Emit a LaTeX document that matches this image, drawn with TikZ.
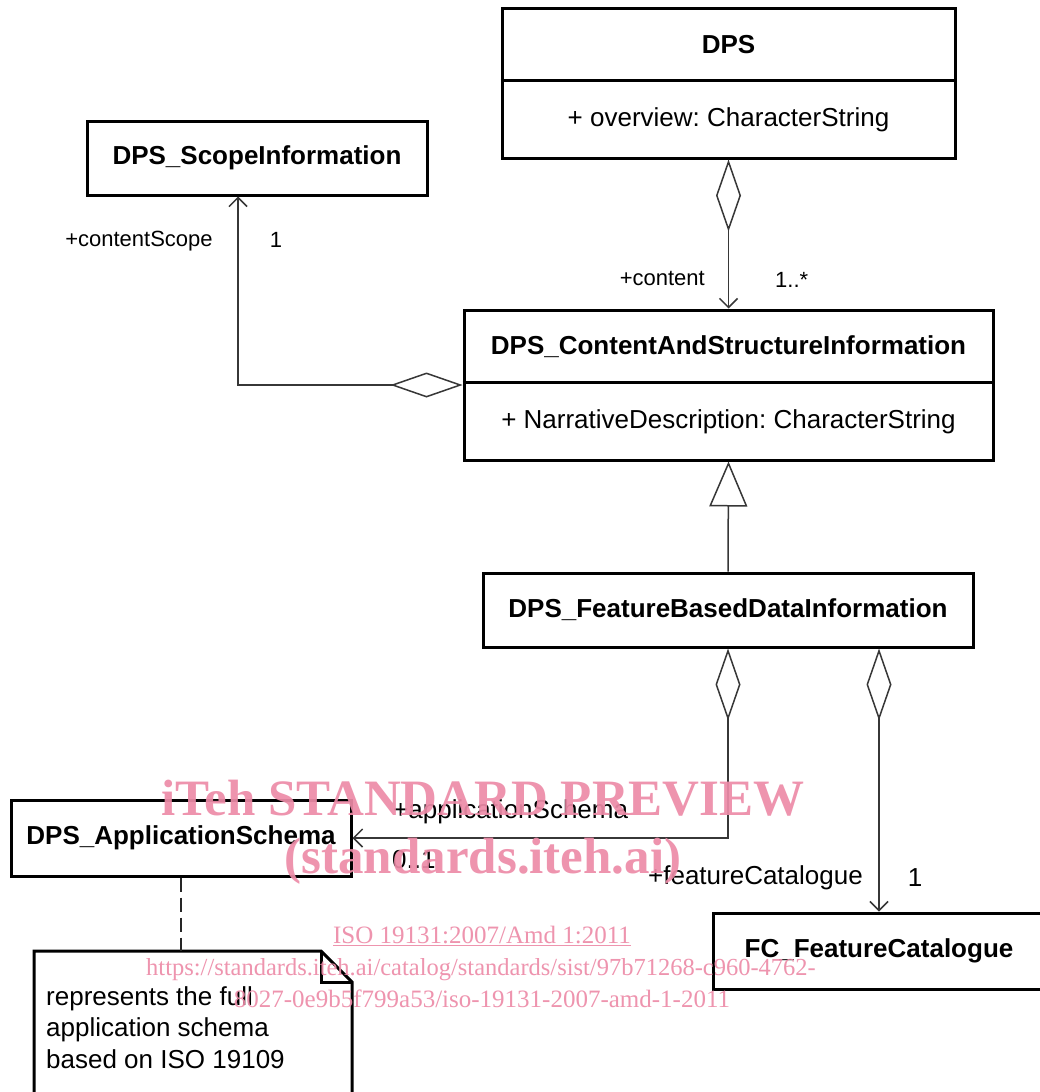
\documentclass[tikz,border=0pt]{standalone}
\usepackage{fontspec}
\setmainfont{Liberation Sans}
\newfontfamily\wmfont{Liberation Serif}
\usetikzlibrary{arrows.meta}
\definecolor{wm}{RGB}{237,139,168}
\definecolor{cl}{RGB}{55,55,55}
\frenchspacing
\begin{document}
\begin{tikzpicture}[x=1pt,y=-1pt,
  cls/.style={draw, line width=3pt, inner sep=0pt},
  ttl/.style={font=\fontsize{26}{31}\selectfont\bfseries, inner sep=0pt},
  attr/.style={font=\fontsize{26}{31}\selectfont, inner sep=0pt},
  conn/.style={draw=cl, line width=1.5pt},
  lblS/.style={font=\fontsize{22}{26}\selectfont, inner sep=0pt},
  lblL/.style={font=\fontsize{26}{31}\selectfont, inner sep=0pt},
  agg/.style={{Diamond[open,length=72pt,width=25pt]}-{Straight Barb[length=9pt,width=18pt]}},
  gen/.style={-{Triangle[open,length=45pt,width=38pt]}},
  wmt/.style={text=wm, text opacity=0.92, inner sep=0pt, anchor=base}
]
\clip (0,0) rectangle (1040,1092);
\fill[white] (0,0) rectangle (1040,1092);

% classes
\node[cls, minimum width=453pt, minimum height=150pt] (dps) at (728.5,83) {};
\node[ttl] (dpsT) at (728.5,45) {DPS};
\node[attr] (dpsA) at (728.5,120) {+ overview: CharacterString};
\draw[line width=3pt] ([yshift=-74pt]dps.north west) -- ([yshift=-74pt]dps.north east);

\node[cls, ttl, minimum width=340pt, minimum height=74pt] (scope) at (257,158) {DPS\_ScopeInformation};

\node[cls, minimum width=529pt, minimum height=150pt] (content) at (728.5,385) {};
\node[ttl] (contentT) at (728.5,347) {DPS\_ContentAndStructureInformation};
\node[attr] (contentA) at (728.5,422) {+ NarrativeDescription: CharacterString};
\draw[line width=3pt] ([yshift=-74pt]content.north west) -- ([yshift=-74pt]content.north east);

\node[cls, ttl, minimum width=490pt, minimum height=74pt] (fbdi) at (728,610) {DPS\_FeatureBasedDataInformation};
\node[cls, ttl, minimum width=340pt, minimum height=76pt] (app) at (181,838) {DPS\_ApplicationSchema};
\node[cls, ttl, minimum width=332pt, minimum height=76pt] (fc) at (879,951) {FC\_FeatureCatalogue};

% note
\coordinate (notetop) at (181,951);
\draw[line width=3pt, line join=miter] (34,1100) -- (34,951) -- (321,951) -- (352,982) -- (352,1100);
\draw[line width=3pt] (321,951) -- (321,982) -- (352,982);
\node[anchor=north west, align=left, font=\fontsize{26}{31.5}\selectfont, inner sep=0pt] (note) at (46,986)
  {represents the full\\application schema\\based on ISO 19109};
\draw[conn, draw=black!85, dash pattern=on 14pt off 6pt] (app.south) -- (notetop);

% connectors
\draw[conn, agg] (dps.south) -- (content.north);
\node[lblS, anchor=east] (l1) at (705,278) {+content};
\node[lblS, anchor=west] (l2) at (775,280) {1..*};

\draw[conn, agg] (content.west) -| ([xshift=-19pt]scope.south);
\node[lblS] (l3) at (139,241) {+contentScope};
\node[lblS] (l4) at (276,240) {1};

\draw[conn, gen] (fbdi.north) -- (content.south);

\draw[conn, agg] (fbdi.south) |- (app.east);
\node[lblL, anchor=west] (l5) at (393,812) {+applicationSchema};
\node[lblL, anchor=west] (l6) at (392,860) {0..1};

\draw[conn, agg] ([xshift=151pt]fbdi.south) -- (fc.north);
\node[lblL, anchor=east] (l7) at (863,878) {+featureCatalogue};
\node[lblL] (l8) at (915,878) {1};

% watermark
\node[wmt, font=\wmfont\bfseries\fontsize{51}{55}\selectfont] (wm1) at (483,815) {iTeh STANDARD PREVIEW};
\node[wmt, font=\wmfont\bfseries\fontsize{51}{55}\selectfont] (wm2) at (483,873) {(standards.iteh.ai)};
\node[wmt, font=\wmfont\fontsize{25}{28}\selectfont] (wm3) at (482,943) {\underline{ISO 19131:2007/Amd 1:2011}};
\node[wmt, font=\wmfont\fontsize{24.5}{28}\selectfont] (wm4) at (481,975) {https://standards.iteh.ai/catalog/standards/sist/97b71268-c960-4762-};
\node[wmt, font=\wmfont\fontsize{25}{28}\selectfont] (wm5) at (482,1007) {8027-0e9b5f799a53/iso-19131-2007-amd-1-2011};
\end{tikzpicture}
\end{document}
